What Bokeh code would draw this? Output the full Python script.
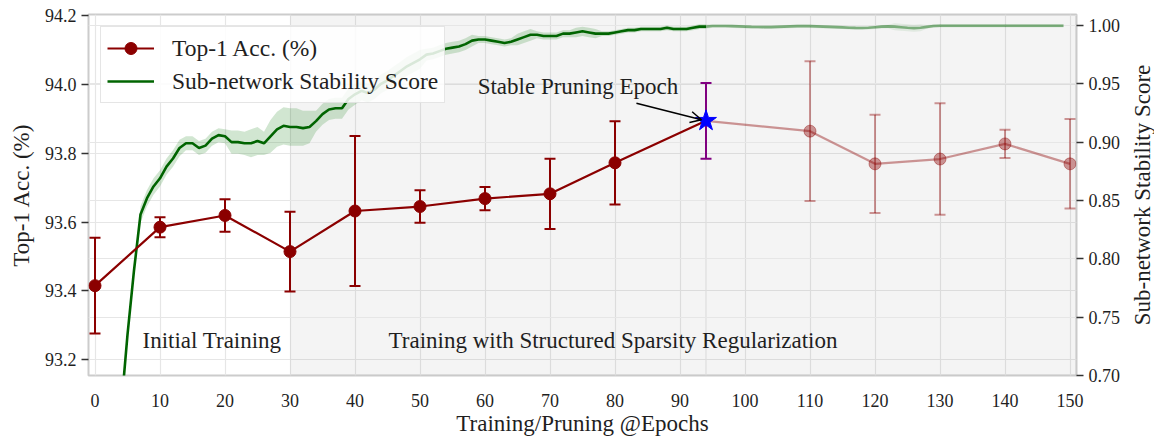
import math
from bokeh.plotting import figure
from bokeh.layouts import row
from bokeh.models import (Range1d, LinearAxis, FixedTicker, Grid, ColumnDataSource, Whisker,
                          TeeHead, BoxAnnotation, Span, Label, Arrow, OpenHead, Legend,
                          LegendItem, PrintfTickFormatter)
from bokeh.embed import file_html
from bokeh.resources import INLINE

# ---------------- data ----------------
acc_epochs = [0, 10, 20, 30, 40, 50, 60, 70, 80, 94, 110, 120, 130, 140, 150]
acc_mean = [93.415, 93.585, 93.619, 93.514, 93.632, 93.645, 93.668, 93.682, 93.772,
            93.894, 93.864, 93.769, 93.783, 93.827, 93.769]
acc_std = [0.139, 0.029, 0.047, 0.116, 0.218, 0.047, 0.034, 0.102, 0.121,
           0.110, 0.203, 0.143, 0.162, 0.041, 0.130]
stable_epoch = 94

stab_epochs_a = list(range(4, 95))
stab_a = [0.670, 0.735, 0.790, 0.838, 0.852, 0.862, 0.869, 0.879, 0.886, 0.895,
          0.899, 0.899, 0.895, 0.897, 0.903, 0.906, 0.905, 0.900, 0.900, 0.899,
          0.899, 0.901, 0.899, 0.905, 0.911, 0.914, 0.913, 0.913, 0.912, 0.913,
          0.918, 0.924, 0.928, 0.929, 0.929, 0.937, 0.941, 0.944, 0.942, 0.945,
          0.950, 0.953, 0.957, 0.961, 0.965, 0.968, 0.971, 0.975, 0.976, 0.978,
          0.980, 0.981, 0.982, 0.984, 0.987, 0.988, 0.988, 0.987, 0.986, 0.985,
          0.986, 0.988, 0.990, 0.992, 0.992, 0.991, 0.991, 0.991, 0.993, 0.993,
          0.994, 0.995, 0.994, 0.993, 0.993, 0.993, 0.994, 0.995, 0.996, 0.996,
          0.997, 0.997, 0.997, 0.997, 0.998, 0.997, 0.997, 0.997, 0.998, 0.999,
          0.999]
stab_std_a = [0.004, 0.004, 0.004,
              0.007, 0.007, 0.007, 0.007, 0.007, 0.007, 0.007,
              0.006, 0.006, 0.006, 0.006, 0.006, 0.006, 0.006,
              0.010, 0.010, 0.010, 0.012, 0.012, 0.010,
              0.014, 0.015, 0.016, 0.016, 0.016, 0.015, 0.014,
              0.009, 0.009, 0.009, 0.009, 0.009, 0.009, 0.009,
              0.008, 0.008, 0.008, 0.008, 0.008, 0.008, 0.008, 0.008, 0.008, 0.008,
              0.005, 0.005, 0.005, 0.005, 0.005, 0.005, 0.005, 0.005,
              0.003, 0.003, 0.003, 0.003, 0.003, 0.003,
              0.005, 0.005, 0.005,
              0.003, 0.003, 0.003, 0.003, 0.003, 0.003,
              0.004, 0.004, 0.004, 0.004,
              0.002, 0.002, 0.002, 0.002, 0.002, 0.002, 0.002, 0.002, 0.002,
              0.002, 0.002, 0.002, 0.002, 0.002, 0.002, 0.002, 0.002]

stab_epochs_b = list(range(94, 150))
stab_b = [0.999,
          0.9995, 0.9995, 0.9995, 0.9994, 0.9992, 0.9990, 0.9988, 0.9987, 0.9986, 0.9986,
          0.9988, 0.9990, 0.9992, 0.9994, 0.9995, 0.9994, 0.9992, 0.9990, 0.9988, 0.9986,
          0.9984, 0.9981, 0.9979, 0.9978, 0.9980, 0.9985, 0.9990, 0.9992, 0.9990, 0.9985,
          0.9980, 0.9977, 0.9980, 0.9988, 0.9995, 0.9997, 0.9997, 0.9997, 0.9997, 0.9997,
          0.9997, 0.9997, 0.9997, 0.9997, 0.9997, 0.9997, 0.9997, 0.9997, 0.9997, 0.9997,
          0.9997, 0.9997, 0.9997, 0.9997, 0.9997]
stab_std_b = [0.002,
              0.0015, 0.0015, 0.0015, 0.0015, 0.0015, 0.0015, 0.0015, 0.0015, 0.0015, 0.0015,
              0.0015, 0.0015, 0.0015, 0.0015, 0.0015, 0.0015, 0.0015, 0.0015, 0.0015, 0.0015,
              0.0015, 0.0015, 0.0015, 0.0015, 0.0015, 0.0015, 0.0015, 0.0015, 0.003, 0.003,
              0.003, 0.003, 0.003, 0.0015, 0.0015, 0.0015, 0.0015, 0.0015, 0.0015, 0.0015,
              0.0015, 0.0015, 0.0015, 0.0015, 0.0015, 0.0015, 0.0015, 0.0015, 0.0015, 0.0015,
              0.0015, 0.0015, 0.0015, 0.0015, 0.0015]

x_ticks = [0, 10, 20, 30, 40, 50, 60, 70, 80, 90, 100, 110, 120, 130, 140, 150]
left_ticks = [93.2, 93.4, 93.6, 93.8, 94.0, 94.2]
right_ticks = [0.70, 0.75, 0.80, 0.85, 0.90, 0.95, 1.00]

X_MIN, X_MAX = -1, 151
ACC_MIN, ACC_MAX = 93.154, 94.203
STAB_MIN, STAB_MAX = 0.70, 1.0094

phase_start = 30
initial_label_pos = (18, 93.256)
reg_label_pos = (79.7, 93.256)
stable_label_pos = (74.3, 93.993)
arrow_start = (83.3, 93.945)
arrow_end = (93.3, 93.897)

FONT = "Liberation Serif"
RED = "#8b0000"
GREEN = "#006400"
TXT = "#1f1f1f"

# ---------------- figure ----------------
p = figure(width=1128, height=438, output_backend="svg", toolbar_location=None,
           x_range=Range1d(X_MIN, X_MAX), y_range=Range1d(ACC_MIN, ACC_MAX),
           min_border_left=88, min_border_right=52, min_border_top=14, min_border_bottom=61)
p.extra_y_ranges = {"stab": Range1d(STAB_MIN, STAB_MAX)}
p.background_fill_color = "white"
p.border_fill_color = "white"
p.outline_line_color = "#cccccc"
p.outline_line_width = 2

# shaded training phase
p.add_layout(BoxAnnotation(left=phase_start, fill_color="black", fill_alpha=0.045,
                           line_color=None, level="underlay"))
p.add_layout(Span(location=stable_epoch, dimension="height", line_color="#dddddd",
                  line_width=1.2, level="underlay"))

# axes
xa = p.xaxis[0]
xa.ticker = FixedTicker(ticks=x_ticks)
xa.axis_label = "Training/Pruning @Epochs"
xa.major_tick_line_color = None
xa.minor_tick_line_color = None
xa.axis_line_color = None
xa.major_label_standoff = 12
xa.axis_label_standoff = 1

ya = p.yaxis[0]
ya.ticker = FixedTicker(ticks=left_ticks)
ya.formatter = PrintfTickFormatter(format="%.1f")
ya.axis_label = "Top-1 Acc. (%)"
ya.major_label_standoff = 5
ya.axis_label_standoff = 8

ra = LinearAxis(y_range_name="stab", ticker=FixedTicker(ticks=right_ticks),
                formatter=PrintfTickFormatter(format="%.2f"))
p.add_layout(ra, "right")
ra.major_label_standoff = 5

for ax in (ya, ra):
    ax.major_tick_out = 7
    ax.major_tick_in = 0
    ax.major_tick_line_color = "#333333"
    ax.major_tick_line_width = 1.6
    ax.minor_tick_line_color = None
    ax.axis_line_color = None
for ax in (xa, ya, ra):
    ax.major_label_text_font = FONT
    ax.major_label_text_font_size = "18px"
    ax.major_label_text_color = TXT
    ax.axis_label_text_font = FONT
    ax.axis_label_text_font_size = "23px"
    ax.axis_label_text_font_style = "normal"
    ax.axis_label_text_color = TXT

# grids
p.xgrid.grid_line_color = "#e6e6e6"
p.xgrid.grid_line_width = 1.2
p.ygrid.grid_line_color = "#e6e6e6"
p.ygrid.grid_line_width = 1.2
p.add_layout(Grid(dimension=1, ticker=FixedTicker(ticks=right_ticks), y_range_name="stab",
                  grid_line_color="#e6e6e6", grid_line_width=1.2))

# ---------------- stability score ----------------
sa = ColumnDataSource(dict(x=stab_epochs_a, y=stab_a,
                           lo=[v - s for v, s in zip(stab_a, stab_std_a)],
                           hi=[v + s for v, s in zip(stab_a, stab_std_a)]))
sb = ColumnDataSource(dict(x=stab_epochs_b, y=stab_b,
                           lo=[v - s for v, s in zip(stab_b, stab_std_b)],
                           hi=[v + s for v, s in zip(stab_b, stab_std_b)]))
p.varea(x="x", y1="lo", y2="hi", source=sa, y_range_name="stab",
        fill_color="#2e8b2e", fill_alpha=0.22)
p.varea(x="x", y1="lo", y2="hi", source=sb, y_range_name="stab",
        fill_color="#2e8b2e", fill_alpha=0.10)
g_line = p.line("x", "y", source=sa, y_range_name="stab", line_color=GREEN, line_width=2.6)
p.line("x", "y", source=sb, y_range_name="stab", line_color=GREEN, line_width=2.6, line_alpha=0.45)

# ---------------- accuracy ----------------
k = acc_epochs.index(stable_epoch)
src_main = ColumnDataSource(dict(x=acc_epochs[:k], y=acc_mean[:k],
                                 lo=[m - s for m, s in zip(acc_mean[:k], acc_std[:k])],
                                 hi=[m + s for m, s in zip(acc_mean[:k], acc_std[:k])]))
src_star = ColumnDataSource(dict(x=acc_epochs[k:k + 1], y=acc_mean[k:k + 1],
                                 lo=[acc_mean[k] - acc_std[k]], hi=[acc_mean[k] + acc_std[k]]))
src_post = ColumnDataSource(dict(x=acc_epochs[k + 1:], y=acc_mean[k + 1:],
                                 lo=[m - s for m, s in zip(acc_mean[k + 1:], acc_std[k + 1:])],
                                 hi=[m + s for m, s in zip(acc_mean[k + 1:], acc_std[k + 1:])]))
src_line_a = ColumnDataSource(dict(x=acc_epochs[:k + 1], y=acc_mean[:k + 1]))
src_line_b = ColumnDataSource(dict(x=acc_epochs[k:], y=acc_mean[k:]))

r_line = p.line("x", "y", source=src_line_a, line_color=RED, line_width=2.2)
p.line("x", "y", source=src_line_b, line_color=RED, line_width=2.2, line_alpha=0.4)


def whisk(src, color, alpha):
    head = dict(size=11, line_color=color, line_width=2, line_alpha=alpha)
    return Whisker(base="x", lower="lo", upper="hi", source=src, dimension="height",
                   line_color=color, line_width=2, line_alpha=alpha,
                   lower_head=TeeHead(**head), upper_head=TeeHead(**head))


p.add_layout(whisk(src_main, RED, 1.0))
p.add_layout(whisk(src_post, RED, 0.4))
p.add_layout(whisk(src_star, "#800080", 1.0))

r_dots = p.scatter("x", "y", source=src_main, marker="circle", size=12,
                   fill_color=RED, line_color=RED)
p.scatter("x", "y", source=src_post, marker="circle", size=12,
          fill_color=RED, line_color=RED, fill_alpha=0.4, line_alpha=0.4)
p.scatter("x", "y", source=src_star, marker="star", size=22,
          fill_color="#0000ff", line_color="#0000ff")

# legend-only vertical error-bar glyph (placed outside the visible range)
r_bar = p.scatter(x=[-50], y=[93.5], marker="dash", angle=math.pi / 2, size=22,
                  line_color=RED, line_width=2)

# ---------------- annotations ----------------
for (lx, ly), txt in [(initial_label_pos, "Initial Training"),
                      (reg_label_pos, "Training with Structured Sparsity Regularization"),
                      (stable_label_pos, "Stable Pruning Epoch")]:
    p.add_layout(Label(x=lx, y=ly, text=txt, text_align="center", text_baseline="middle",
                       text_font=FONT, text_font_size="23px", text_color=TXT))

p.add_layout(Arrow(end=OpenHead(size=11, line_width=1.5, line_color="black"),
                   x_start=arrow_start[0], y_start=arrow_start[1],
                   x_end=arrow_end[0], y_end=arrow_end[1],
                   line_width=1.5, line_color="black"))

legend = Legend(items=[LegendItem(label="Top-1 Acc. (%)", renderers=[r_line, r_bar, r_dots]),
                       LegendItem(label="Sub-network Stability Score", renderers=[g_line])],
                location="top_left")
legend.label_text_font = FONT
legend.label_text_font_size = "23.5px"
legend.label_text_color = TXT
legend.border_line_color = "#cccccc"
legend.border_line_width = 1.5
legend.background_fill_color = "white"
legend.background_fill_alpha = 0.85
legend.glyph_width = 47
legend.glyph_height = 30
legend.label_height = 30
legend.label_standoff = 18
legend.padding = 6
legend.spacing = 3
legend.margin = 12
p.add_layout(legend)

# ---------------- right-hand axis title (reads bottom-to-top) ----------------
p2 = figure(width=26, height=438, output_backend="svg", toolbar_location=None,
            x_range=Range1d(0, 1), y_range=Range1d(STAB_MIN, STAB_MAX),
            min_border_left=0, min_border_right=0, min_border_top=14, min_border_bottom=61)
p2.outline_line_color = None
p2.background_fill_color = "white"
p2.border_fill_color = "white"
p2.xaxis.visible = False
p2.grid.visible = False
a2 = p2.yaxis[0]
a2.ticker = FixedTicker(ticks=[])
a2.axis_line_color = None
a2.major_tick_line_color = None
a2.minor_tick_line_color = None
a2.major_label_standoff = 0
a2.axis_label_standoff = 0
a2.axis_label = "Sub-network Stability Score"
a2.axis_label_text_font = FONT
a2.axis_label_text_font_size = "23px"
a2.axis_label_text_font_style = "normal"
a2.axis_label_text_color = TXT

layout = row(p, p2)
open("out.html", "w").write(file_html(layout, INLINE))
